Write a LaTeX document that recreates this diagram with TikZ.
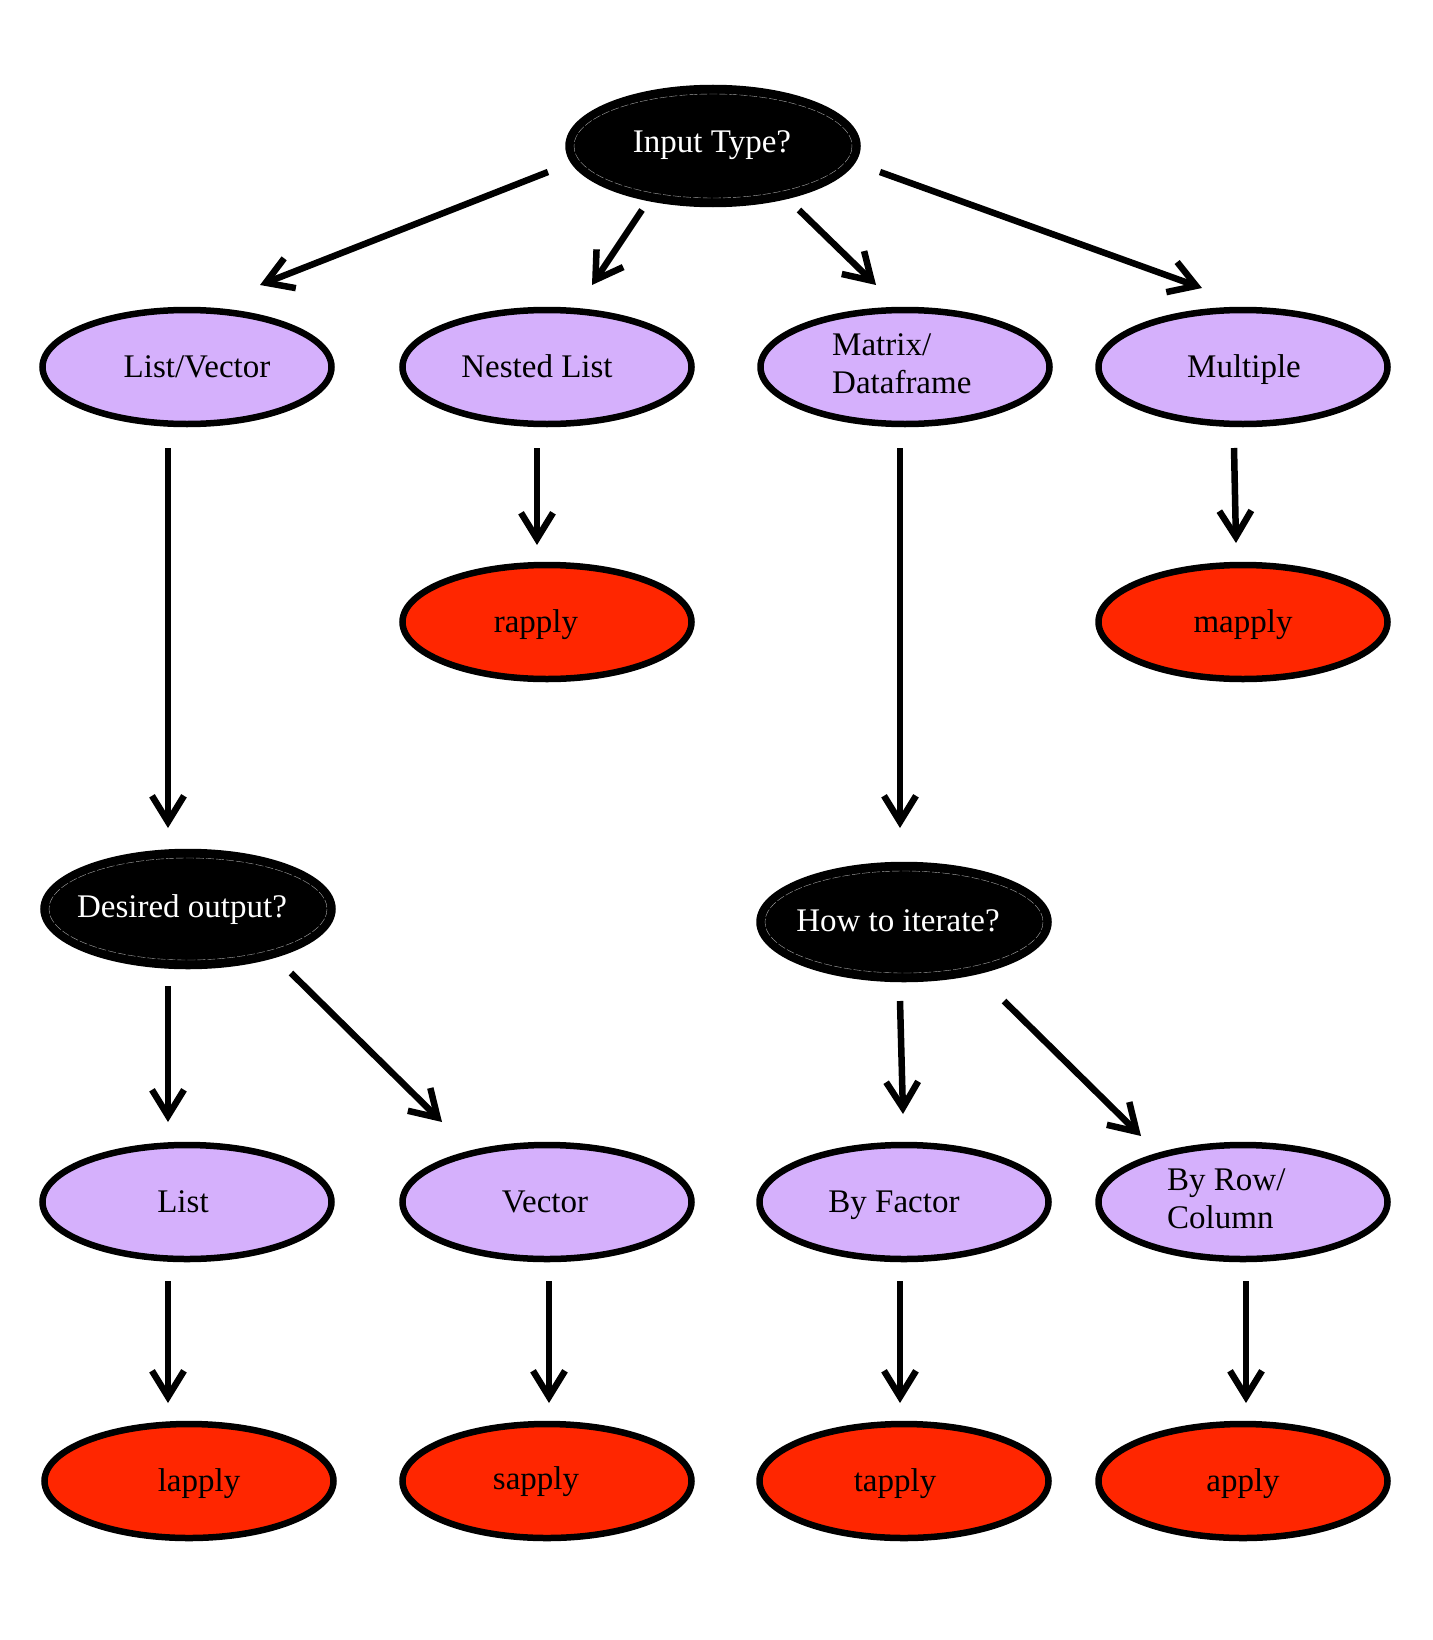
\documentclass[tikz,border=0pt]{standalone}
\usepackage{fontspec}
\setmainfont{Liberation Serif}
\usetikzlibrary{arrows.meta,shapes.geometric,calc}
\definecolor{lav}{HTML}{D5B0FC}
\definecolor{redn}{HTML}{FF2600}
\begin{document}
\begin{tikzpicture}[x=1pt,y=-1pt,
  ell/.style={ellipse,draw=black,line width=6.5pt,minimum width=289pt,minimum height=114pt,inner sep=0pt},
  qnode/.style={ell,fill=black},
  opt/.style={ell,fill=lav},
  fn/.style={ell,fill=redn},
  txt/.style={font=\fontsize{33}{38}\selectfont,inner sep=0pt,anchor=base},
  wtxt/.style={txt,text=white},
  mtxt/.style={txt,anchor=base west},
  arr/.style={line width=6.5pt,-{Straight Barb[length=26pt,width=32pt,line width=6.5pt]}},
  innerline/.style={draw=gray!70,line width=0.4pt,dash pattern=on 8pt off 2pt}]
\fill[white] (0,0) rectangle (1432,1640);
\useasboundingbox (0,0) rectangle (1432,1640);
% nodes
\node[qnode,minimum height=116pt] (it) at (713,146) {};
\node[opt] (lv) at (187,367) {};
\node[opt] (nl) at (547,367) {};
\node[opt] (md) at (905,367) {};
\node[opt] (mu) at (1243,367) {};
\node[fn] (ra) at (547,622) {};
\node[fn] (ma) at (1243,622) {};
\node[qnode] (do) at (188,909) {};
\node[qnode] (hi) at (904,922) {};
\node[opt] (li) at (187,1202) {};
\node[opt] (ve) at (547,1202) {};
\node[opt] (bf) at (904,1202) {};
\node[opt] (br) at (1243,1202) {};
\node[fn] (la) at (189,1481) {};
\node[fn] (sa) at (547,1481) {};
\node[fn] (ta) at (904,1481) {};
\node[fn] (ap) at (1243,1481) {};
% inner dashed outlines of question nodes
\draw[innerline] (it.center) ellipse [x radius=139, y radius=52];
\draw[innerline] (do.center) ellipse [x radius=139, y radius=51];
\draw[innerline] (hi.center) ellipse [x radius=139, y radius=51];
% labels
\node[wtxt] (tit) at (712,153) {Input Type?};
\node[txt] (tlv) at (197,377) {List/Vector};
\node[txt] (tnl) at (537,377) {Nested List};
\node[mtxt] (tmd) at (832,355) {\begin{tabular}[t]{@{}l@{}}Matrix/\\Dataframe\end{tabular}};
\node[txt] (tmu) at (1244,377) {Multiple};
\node[txt] (tra) at (536,632) {rapply};
\node[txt] (tma) at (1243,632) {mapply};
\node[wtxt] (tdo) at (182,917) {Desired output?};
\node[wtxt] (thi) at (898,931) {How to iterate?};
\node[txt] (tli) at (183,1212) {List};
\node[txt] (tve) at (545,1212) {Vector};
\node[txt] (tbf) at (894,1212) {By Factor};
\node[mtxt] (tbr) at (1167,1190) {\begin{tabular}[t]{@{}l@{}}By Row/\\Column\end{tabular}};
\node[txt] (tla) at (199,1491) {lapply};
\node[txt] (tsa) at (536,1489) {sapply};
\node[txt] (tta) at (895,1491) {tapply};
\node[txt] (tap) at (1243,1491) {apply};
% connectors
\draw[arr] ($(it.center)+(-165,26)$) -- ($(lv.center)+(73,-82)$);
\draw[arr] ($(it.center)+(-71,64)$) -- ($(nl.center)+(45,-82)$);
\draw[arr] ($(it.center)+(86,64)$) -- ($(md.center)+(-29,-82)$);
\draw[arr] ($(it.center)+(167,26)$) -- ($(mu.center)+(-41,-79)$);
\draw[arr] ($(lv.center)+(-19,81)$) -- ($(do.center)+(-20,-81)$);
\draw[arr] ($(nl.center)+(-10,81)$) -- ($(ra.center)+(-10,-77)$);
\draw[arr] ($(md.center)+(-5,81)$) -- ($(hi.center)+(-4,-94)$);
\draw[arr] ($(mu.center)+(-9,81)$) -- ($(ma.center)+(-7,-79)$);
\draw[arr] ($(do.center)+(-20,77)$) -- ($(li.center)+(-19,-80)$);
\draw[arr] ($(do.center)+(103,64)$) -- ($(ve.center)+(-105,-80)$);
\draw[arr] ($(hi.center)+(-4,79)$) -- ($(bf.center)+(-1,-88)$);
\draw[arr] ($(hi.center)+(100,79)$) -- ($(br.center)+(-102,-66)$);
\draw[arr] ($(li.center)+(-19,79)$) -- ($(la.center)+(-21,-78)$);
\draw[arr] ($(ve.center)+(2,79)$) -- ($(sa.center)+(2,-78)$);
\draw[arr] ($(bf.center)+(-4,79)$) -- ($(ta.center)+(-4,-78)$);
\draw[arr] ($(br.center)+(3,79)$) -- ($(ap.center)+(3,-78)$);
\end{tikzpicture}
\end{document}
